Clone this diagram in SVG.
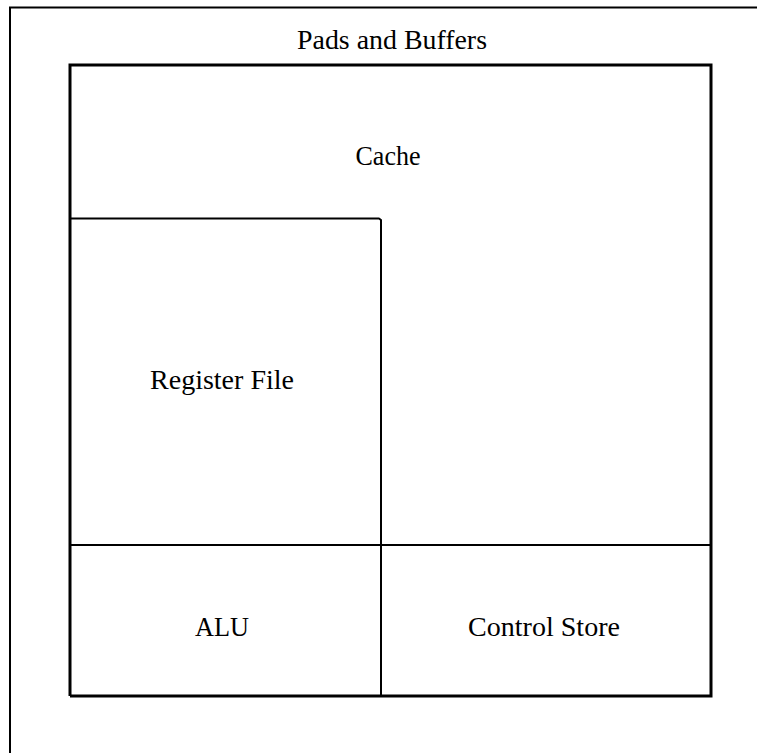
<svg xmlns="http://www.w3.org/2000/svg" width="757" height="753" viewBox="0 0 757 753">
<style>
.t{font-family:"Liberation Serif","Times New Roman",serif;font-size:27px;fill:#000;text-anchor:middle}
.thick{stroke:#000;stroke-width:3;fill:none}
.thin{stroke:#000;stroke-width:2;fill:none}
</style>
<rect width="757" height="753" fill="#fff"/>
<g id="pads">
<path class="thin" d="M10,753 V7.5 H757" stroke-width="2.5"/>
<text class="t" x="392" y="49" textLength="190" lengthAdjust="spacingAndGlyphs">Pads and Buffers</text>
</g>
<g id="cache">
<path class="thick" d="M70,696 V65 H711 V696 H70"/>
<text class="t" x="388" y="165" textLength="65" lengthAdjust="spacingAndGlyphs">Cache</text>
</g>
<g id="register-file">
<path class="thin" d="M70,218.5 H379 L381,220 V696" stroke-linejoin="round"/>
<text class="t" x="222" y="389" textLength="144" lengthAdjust="spacingAndGlyphs">Register File</text>
</g>
<g id="alu">
<path class="thin" d="M70,545 H712"/>
<text class="t" x="222" y="636" textLength="54" lengthAdjust="spacingAndGlyphs">ALU</text>
</g>
<g id="control-store">
<text class="t" x="544" y="636" textLength="152" lengthAdjust="spacingAndGlyphs">Control Store</text>
</g>
<g id="connectors"></g>
</svg>
